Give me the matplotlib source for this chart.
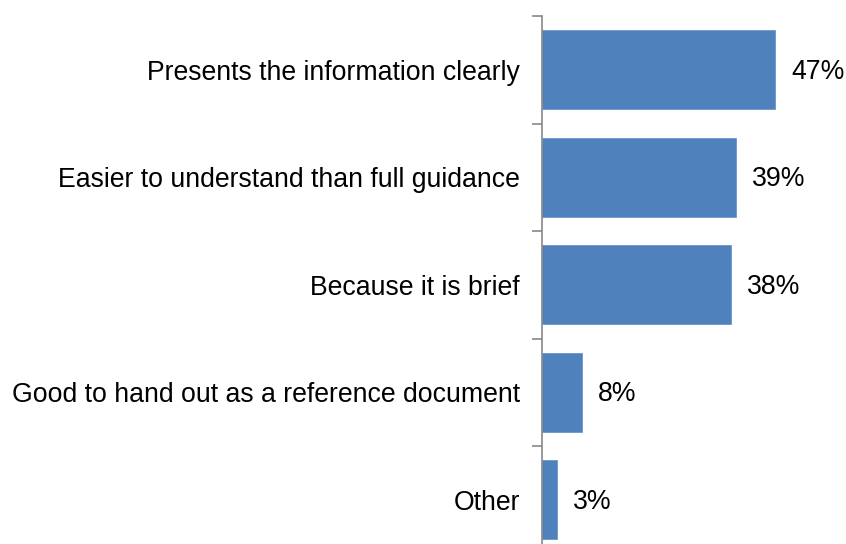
import matplotlib.pyplot as plt

reasons = ["Presents the information clearly",
           "Easier to understand than full guidance",
           "Because it is brief",
           "Good to hand out as a reference document",
           "Other"]
shares = [47, 39, 38, 8, 3]

plt.rcParams['font.family'] = ['Liberation Sans', 'DejaVu Sans']

fig = plt.figure(figsize=(8.46, 5.44), dpi=100)
ax = fig.add_axes([542 / 846, 1 - 553.5 / 544, 298 / 846, 537.5 / 544])

pos = list(range(len(reasons)))
ax.barh(pos, shares, height=0.735, color='#4F81BD', edgecolor='#6A96CC', linewidth=0.6)
ax.set_ylim(len(reasons) - 0.5, -0.5)
ax.set_xlim(0, 60)

for p, v in zip(pos, shares):
    ax.text(v + 3.2, p + 0.02, f"{v}%", va='center', ha='left', fontsize=19.2)

# category labels centred, ticks on the boundaries between them
ax.set_yticks(pos)
ax.set_yticklabels(reasons, fontsize=19.2)
ax.tick_params(axis='y', which='major', length=0, pad=16)
ax.set_yticks([p - 0.5 for p in pos], minor=True)
ax.tick_params(axis='y', which='minor', length=7, width=1.2, color='#878787')

ax.set_xticks([])
for s in ['top', 'right', 'bottom']:
    ax.spines[s].set_visible(False)
ax.spines['left'].set_color('#878787')
ax.spines['left'].set_linewidth(1.2)

fig.savefig('out.png', dpi=100)
